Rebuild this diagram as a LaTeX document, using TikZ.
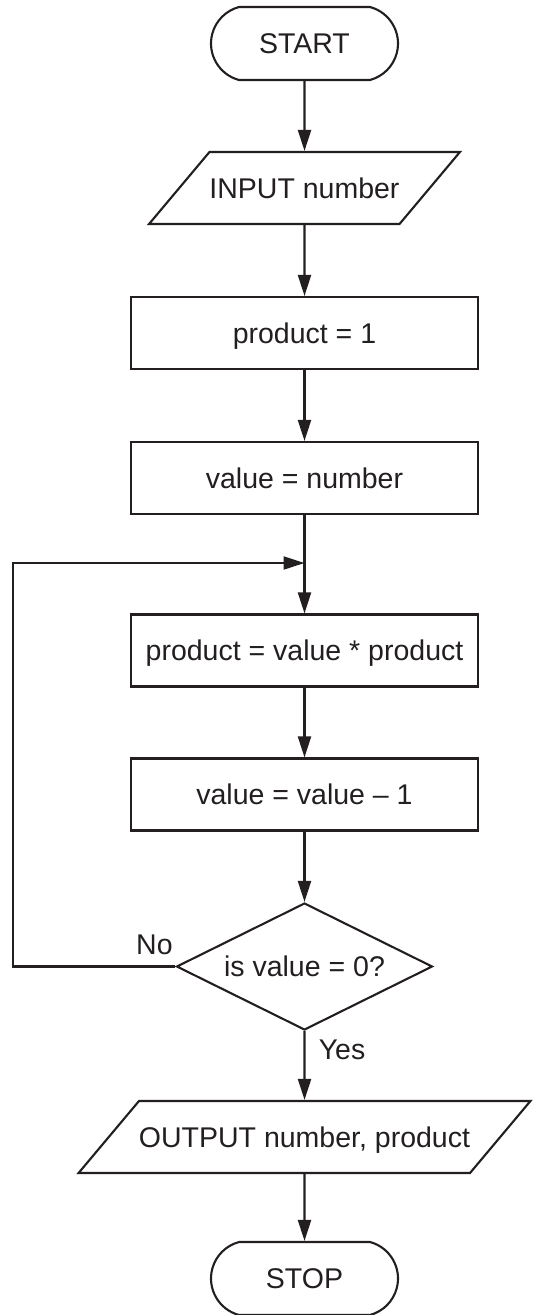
\documentclass[tikz,border=0pt]{standalone}
\usepackage{fontspec}
\setmainfont{Liberation Sans}
\usetikzlibrary{shapes.geometric,shapes.misc,arrows.meta,calc}
\definecolor{ink}{HTML}{231F20}
\tikzset{
  terminal/.style={rounded rectangle, rounded rectangle arc length=150, draw=ink, line width=2.1pt, minimum width=187pt, minimum height=73pt, inner sep=0pt},
  io/.style={trapezium, trapezium left angle=50, trapezium right angle=130, trapezium stretches body, draw=ink, line width=2.1pt, inner xsep=0pt, inner ysep=22pt},
  process/.style={rectangle, draw=ink, line width=2.1pt, minimum width=347pt, minimum height=72pt, inner sep=0pt},
  decision/.style={diamond, aspect=2, draw=ink, line width=2.1pt, minimum width=256pt, minimum height=127pt, inner sep=0pt},
  flow/.style={-{Triangle[length=21pt,width=13pt]}, draw=ink, line width=2.1pt},
  lab/.style={text=ink, inner sep=0pt}
}
\begin{document}
\begin{tikzpicture}[x=1pt, y=-1pt, font=\fontsize{28.5}{34}\selectfont, text=ink, text height=24pt, text depth=4pt]
  \useasboundingbox[fill=white] (0,0) rectangle (533,1315);

  \node[terminal] (start) at (304.5,43.5) {START};
  \node[io, minimum width=307pt] (input) at (304.5,188) {INPUT number};
  \node[process] (init) at (304.5,333) {product = 1};
  \node[process] (assign) at (304.5,478) {value = number};
  \node[process] (multiply) at (304.5,650.5) {product = value * product};
  \node[process] (decrement) at (304.5,794.5) {value = value -- 1};
  \node[decision] (check) at (304.5,966.5) {is value = 0?};
  \node[io, minimum width=445pt] (output) at (304.5,1137) {OUTPUT number, product};
  \node[terminal] (stop) at (304.5,1278.5) {STOP};

  % loop back from the decision
  \coordinate (join) at (304.5,563);
  \coordinate (rail) at (13,563);

  \draw[flow] (start) -- (input);
  \draw[flow] (input) -- (init);
  \draw[flow] (init) -- (assign);
  \draw[flow] (assign) -- (multiply);
  \draw[flow] (multiply) -- (decrement);
  \draw[flow] (decrement) -- (check);
  \draw[flow] (check) -- (output);
  \draw[flow] (output) -- (stop);
  \draw[flow] (check.west) -| (rail) -- (join);

  \node[lab] (nolab) at ($(check.west)+(-21,-22)$) {No};
  \node[lab] (yeslab) at ($(check.south)+(37.5,18)$) {Yes};
\end{tikzpicture}
\end{document}
